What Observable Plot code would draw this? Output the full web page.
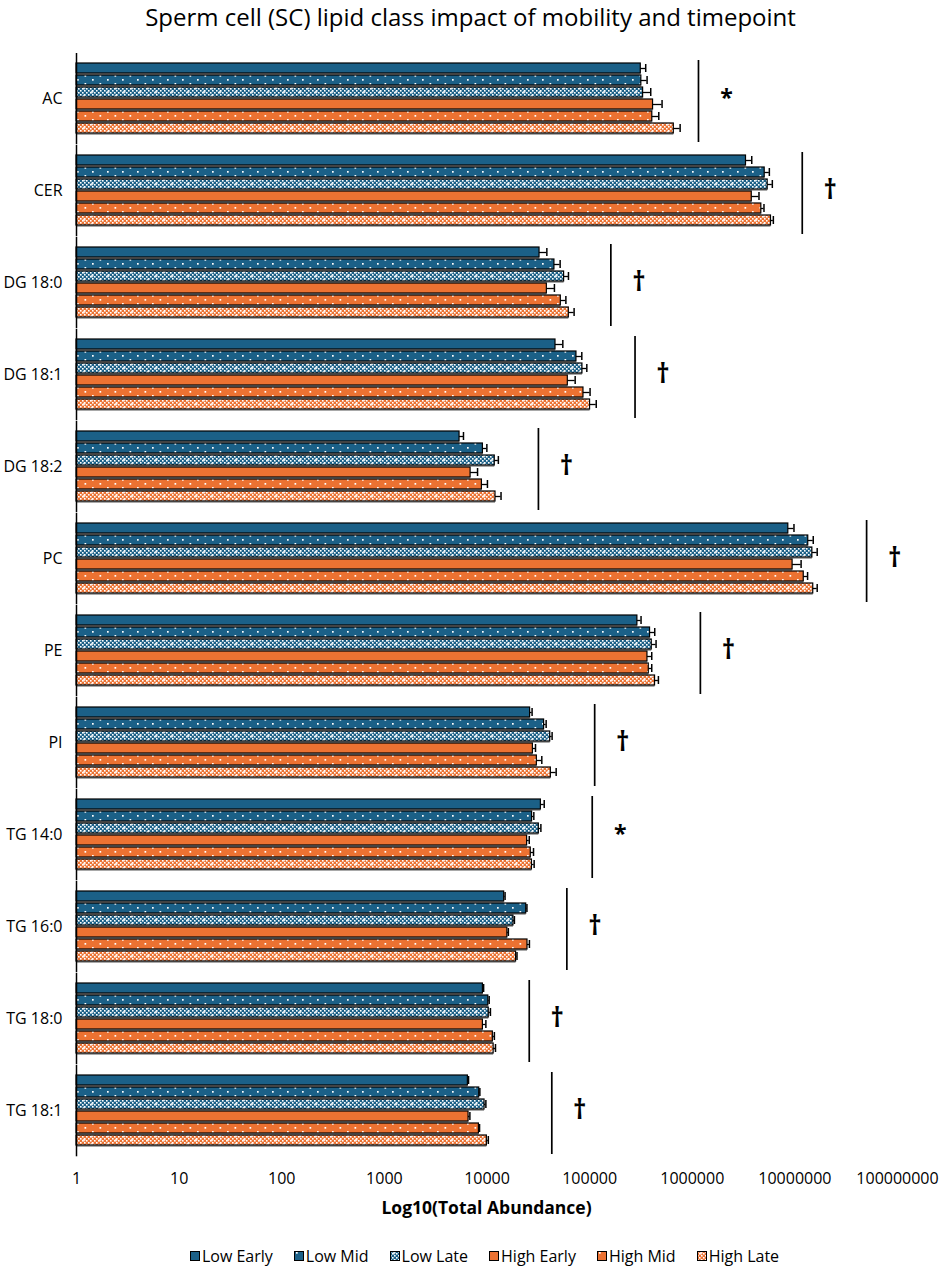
<!DOCTYPE html>
<html><head><meta charset="utf-8">
<script src="https://cdn.jsdelivr.net/npm/d3@7"></script>
<script src="https://cdn.jsdelivr.net/npm/@observablehq/plot@0.6"></script>
<style>
body{margin:0;background:#fff;font-family:"Open Sans",sans-serif;}
#page{position:relative;width:941px;height:1266px;overflow:hidden;background:#fff;}
#title{position:absolute;top:1px;left:0;width:941px;text-align:center;font-size:24px;line-height:32px;color:#000;z-index:2;}
#chart{position:absolute;top:28px;left:0;z-index:1;}
#xlabel{position:absolute;top:1196px;left:76px;width:821px;text-align:center;font-weight:bold;font-size:17.5px;line-height:22px;color:#000;z-index:2;}
#legend{position:absolute;top:1245px;left:14px;width:941px;display:flex;justify-content:center;gap:21px;font-size:16px;line-height:22px;color:#000;z-index:2;}
#legend .item{display:flex;align-items:center;gap:2px;}
#chart g[aria-label="x-axis tick label"]{font-size:16px;}
</style></head><body>
<svg width="0" height="0" style="position:absolute">
<defs>
<pattern id="dotsBlue" width="15" height="8" patternUnits="userSpaceOnUse">
<rect width="15" height="8" fill="#1b6087"/>
<rect x="2" y="1" width="1.7" height="1.7" fill="#fff"/>
<rect x="9.5" y="5" width="1.7" height="1.7" fill="#fff"/>
</pattern>
<pattern id="dotsOrange" width="15" height="8" patternUnits="userSpaceOnUse">
<rect width="15" height="8" fill="#ec7232"/>
<rect x="2" y="1" width="1.7" height="1.7" fill="#fff"/>
<rect x="9.5" y="5" width="1.7" height="1.7" fill="#fff"/>
</pattern>
<pattern id="chkBaseBlue" width="4" height="4" patternUnits="userSpaceOnUse">
<rect width="4" height="4" fill="#1b6087"/>
<rect width="1.6" height="1.6" fill="#fff"/>
<rect x="2" y="2" width="1.6" height="1.6" fill="#fff"/>
</pattern>
<pattern id="chkBaseOrange" width="4" height="4" patternUnits="userSpaceOnUse">
<rect width="4" height="4" fill="#ec7232"/>
<rect width="1.6" height="1.6" fill="#fff"/>
<rect x="2" y="2" width="1.6" height="1.6" fill="#fff"/>
</pattern>
<pattern id="checkBlue" width="16" height="8" patternUnits="userSpaceOnUse">
<rect width="16" height="8" fill="url(#chkBaseBlue)"/>
<rect x="2.5" y="1.5" width="3" height="1" fill="#fff"/><rect x="3.5" y="0.5" width="1" height="3" fill="#fff"/>
<rect x="10.5" y="5.5" width="3" height="1" fill="#fff"/><rect x="11.5" y="4.5" width="1" height="3" fill="#fff"/>
</pattern>
<pattern id="checkOrange" width="16" height="8" patternUnits="userSpaceOnUse">
<rect width="16" height="8" fill="url(#chkBaseOrange)"/>
<rect x="2.5" y="1.5" width="3" height="1" fill="#fff"/><rect x="3.5" y="0.5" width="1" height="3" fill="#fff"/>
<rect x="10.5" y="5.5" width="3" height="1" fill="#fff"/><rect x="11.5" y="4.5" width="1" height="3" fill="#fff"/>
</pattern>
</defs></svg>
<div id="page">
<div id="title">Sperm cell (SC) lipid class impact of mobility and timepoint</div>
<div id="chart"></div>
<div id="xlabel">Log10(Total Abundance)</div>
<div id="legend"></div>
</div>
<script>
const classes = ["AC","CER","DG 18:0","DG 18:1","DG 18:2","PC","PE","PI","TG 14:0","TG 16:0","TG 18:0","TG 18:1"];
const series = ["Low Early","Low Mid","Low Late","High Early","High Mid","High Late"];
const xTicks = [1,10,100,1000,10000,100000,1000000,10000000,100000000];

const lowEarly  = [315000, 3340000, 32500, 46500, 5400, 8630000, 292000, 26300, 33500, 14700, 9120, 6510];
const lowMid    = [319000, 5080000, 45400, 74400, 9120, 13500000, 388000, 36000, 27500, 24100, 10300, 8400];
const lowLate   = [332000, 5430000, 56400, 85100, 11900, 14800000, 403000, 41300, 32000, 18100, 10400, 9460];
const highEarly = [415000, 3800000, 38300, 61300, 6920, 9500000, 366000, 28000, 24600, 15800, 9120, 6610];
const highMid   = [408000, 4710000, 52400, 87100, 8920, 12200000, 377000, 30600, 26700, 24800, 11400, 8340];
const highLate  = [661000, 5850000, 62700, 101000, 12100, 15100000, 434000, 41900, 27400, 19200, 11600, 9970];

const lowEarlyErr  = [37000, 460000, 5800, 8300, 500, 1170000, 25000, 1200, 2600, 300, 150, 100];
const lowMidErr    = [44000, 560000, 6200, 9500, 850, 1600000, 43000, 1700, 1100, 400, 200, 120];
const lowLateErr   = [62000, 600000, 5800, 8800, 1000, 1700000, 41000, 1800, 1500, 400, 400, 290];
const highEarlyErr = [93000, 670000, 7100, 11000, 1170, 2000000, 37000, 1700, 1200, 350, 630, 200];
const highMidErr   = [64000, 290000, 6300, 13900, 1180, 1100000, 26000, 3600, 1700, 1100, 400, 120];
const highLateErr  = [101000, 320000, 7900, 15000, 1600, 1400000, 34000, 5300, 1400, 400, 500, 330];

const sigLine   = [1150000, 11800000, 161000, 277000, 31700, 50000000, 1200000, 112000, 106000, 60000, 25800, 42800];
const sigSymbol = ["*","†","†","†","†","†","†","†","*","†","†","†"];

const blue = "#1b6087", orange = "#ec7232";
const fills = {
  "Low Early": blue, "Low Mid": "url(#dotsBlue)", "Low Late": "url(#checkBlue)",
  "High Early": orange, "High Mid": "url(#dotsOrange)", "High Late": "url(#checkOrange)"
};

const vals = [lowEarly, lowMid, lowLate, highEarly, highMid, highLate];
const errs = [lowEarlyErr, lowMidErr, lowLateErr, highEarlyErr, highMidErr, highLateErr];
const rows = classes.flatMap((c, i) => series.map((s, j) => ({cls: c, series: s, value: vals[j][i], err: errs[j][i]})));
const sigRows = classes.map((c, i) => ({cls: c, line: sigLine[i], sym: sigSymbol[i]}));

const marks = [
  Plot.barX(rows, {fy: "cls", y: "series", x1: 1, x2: "value", fill: "#a9a9a9", dy: 2})
];
for (const s of series) {
  marks.push(Plot.barX(rows.filter(d => d.series === s), {fy: "cls", y: "series", x1: 1, x2: "value", fill: fills[s], stroke: "#000", strokeWidth: 1.2}));
}
marks.push(
  Plot.ruleY(rows, {fy: "cls", y: "series", x1: "value", x2: d => d.value + d.err, stroke: "#000", strokeWidth: 1.3}),
  Plot.tickX(rows, {fy: "cls", y: "series", x: d => d.value + d.err, stroke: "#000", strokeWidth: 1.5, insetTop: 1, insetBottom: 1}),
  Plot.ruleX(sigRows, {fy: "cls", x: "line", stroke: "#000", strokeWidth: 1.7, insetTop: -1, insetBottom: -7}),
  Plot.text(sigRows.filter(d => d.sym === "†"), {fy: "cls", x: "line", text: "sym", dx: 28, fontSize: 26, fontWeight: "bold", fill: "#000"}),
  Plot.text(sigRows.filter(d => d.sym === "*"), {fy: "cls", x: "line", text: "sym", dx: 28, fontSize: 23, fontWeight: "bold", fill: "#000"}),
  Plot.ruleX([1], {stroke: "#000", strokeWidth: 1.5, insetTop: -8, insetBottom: -9.3})
);

const chart = Plot.plot({
  width: 941, height: 1188,
  marginLeft: 76, marginRight: 44, marginTop: 23, marginBottom: 60,
  style: {fontFamily: '"Open Sans", sans-serif', fontSize: "16px", background: "transparent", color: "#000", overflow: "visible"},
  x: {type: "log", domain: [1, 1e8], ticks: xTicks, tickFormat: d3.format("d"), tickSize: 0, tickPadding: 25, label: null},
  y: {domain: series, paddingInner: 0.14, paddingOuter: 0, axis: null},
  fy: {domain: classes, paddingInner: 0.2, paddingOuter: 0.1, axis: "left", tickSize: 0, tickPadding: 14, label: null},
  facet: {marginTop: 0, marginBottom: 0, marginLeft: 0, marginRight: 0},
  marks
});
document.getElementById("chart").appendChild(chart);

const legend = document.getElementById("legend");
for (const s of series) {
  const item = document.createElement("div");
  item.className = "item";
  item.innerHTML = `<svg width="10" height="10"><rect x="0.5" y="0.5" width="9" height="9" fill="${fills[s]}" stroke="#000" stroke-width="1"/></svg><span>${s}</span>`;
  legend.appendChild(item);
}
</script>
</body></html>
